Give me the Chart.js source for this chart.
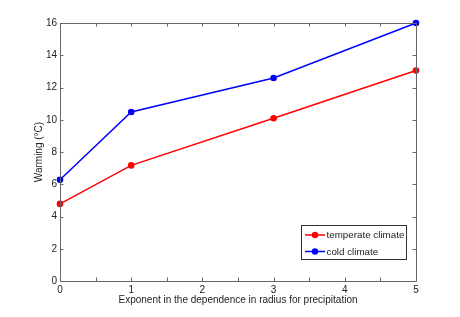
<!DOCTYPE html>
<html>
<head>
<meta charset="utf-8">
<script src="https://cdn.jsdelivr.net/npm/chart.js@4"></script>
<style>
html,body{margin:0;padding:0;background:#fff;}
#wrap{width:460px;height:317px;}
</style>
</head>
<body>
<div id="wrap"><canvas id="c" width="460" height="317"></canvas></div>
<script>
const exponents = [0, 1, 3, 5];
const temperate = [4.78, 7.17, 10.09, 13.05];
const cold = [6.28, 10.48, 12.59, 16.0];
const seriesLabels = ['temperate climate', 'cold climate'];
const seriesColors = ['#ff0000', '#0000ff'];
const xTitle = 'Exponent in the dependence in radius for precipitation';
const yTitle = 'Warming (\u00B0C)';

const FONT = 'Liberation Sans, Arial, Helvetica, sans-serif';
const AXIS = '#666666';

function pts(xs, ys){ return xs.map((x,i)=>({x:x, y:ys[i]})); }

const boxPlugin = {
  id: 'boxPlugin',
  afterDraw(chart){
    const ctx = chart.ctx;
    const a = chart.chartArea;
    const xs = chart.scales.x, ys = chart.scales.y;
    ctx.save();
    ctx.strokeStyle = AXIS;
    ctx.lineWidth = 1;
    ctx.beginPath();
    ctx.rect(Math.round(a.left)+0.5, Math.round(a.top)+0.5, Math.round(a.right-a.left), Math.round(a.bottom-a.top));
    ctx.stroke();
    const tl = 3.5;
    ctx.beginPath();
    xs.ticks.forEach(t=>{
      const px = Math.round(xs.getPixelForValue(t.value))+0.5;
      ctx.moveTo(px, a.bottom); ctx.lineTo(px, a.bottom - tl);
      ctx.moveTo(px, a.top); ctx.lineTo(px, a.top + tl);
    });
    ys.ticks.forEach(t=>{
      const py = Math.round(ys.getPixelForValue(t.value))+0.5;
      ctx.moveTo(a.left, py); ctx.lineTo(a.left + tl, py);
      ctx.moveTo(a.right, py); ctx.lineTo(a.right - tl, py);
    });
    ctx.stroke();

    // legend
    const lx = 301.5, ly = 225.5, lw = 105, lh = 34;
    ctx.fillStyle = '#fff';
    ctx.fillRect(lx, ly, lw, lh);
    ctx.strokeStyle = '#333';
    ctx.strokeRect(lx, ly, lw, lh);
    chart.data.datasets.forEach((ds, i)=>{
      const y = 235 + i*16.5;
      ctx.strokeStyle = ds.borderColor;
      ctx.lineWidth = 1.5;
      ctx.beginPath(); ctx.moveTo(305, y); ctx.lineTo(325, y); ctx.stroke();
      ctx.fillStyle = ds.borderColor;
      ctx.beginPath(); ctx.arc(315, y, 3.2, 0, Math.PI*2); ctx.fill();
      ctx.fillStyle = '#222';
      ctx.font = '9.8px ' + FONT;
      ctx.textBaseline = 'middle';
      ctx.textAlign = 'left';
      ctx.fillText(ds.label, 326.5, y + 0.5);
    });
    ctx.restore();
  }
};

new Chart(document.getElementById('c'), {
  type: 'line',
  data: {
    datasets: [
      {label: seriesLabels[0], data: pts(exponents, temperate), borderColor: seriesColors[0], backgroundColor: seriesColors[0],
       borderWidth: 1.5, pointRadius: 3.3, pointBorderWidth: 0, pointHoverRadius: 3.3, tension: 0, clip: false},
      {label: seriesLabels[1], data: pts(exponents, cold), borderColor: seriesColors[1], backgroundColor: seriesColors[1],
       borderWidth: 1.5, pointRadius: 3.3, pointBorderWidth: 0, pointHoverRadius: 3.3, tension: 0, clip: false}
    ]
  },
  options: {
    responsive: false,
    animation: false,
    events: [],
    layout: {padding: {left: 0, top: 23, right: 44, bottom: 0}},
    plugins: {legend: {display: false}, tooltip: {enabled: false}},
    scales: {
      x: {
        type: 'linear', min: 0, max: 5,
        afterFit(s){ s.height = 36; },
        grid: {display: false, drawTicks: false},
        border: {display: false},
        ticks: {
          stepSize: 0.5, autoSkip: false, maxRotation: 0, padding: 3,
          color: '#222', font: {family: FONT, size: 10},
          callback(v){ return Number.isInteger(v) ? String(v) : ''; }
        },
        title: {display: true, text: xTitle, color: '#222', font: {family: FONT, size: 10}, padding: {top: 0, bottom: 10.5}}
      },
      y: {
        type: 'linear', min: 0, max: 16,
        afterFit(s){ s.width = 60; },
        grid: {display: false, drawTicks: false},
        border: {display: false},
        ticks: {stepSize: 2, padding: 3, color: '#222', font: {family: FONT, size: 10}},
        title: {display: true, text: yTitle, color: '#222', font: {family: FONT, size: 10}, padding: {top: 33, bottom: 0}}
      }
    }
  },
  plugins: [boxPlugin]
});
</script>
</body>
</html>
